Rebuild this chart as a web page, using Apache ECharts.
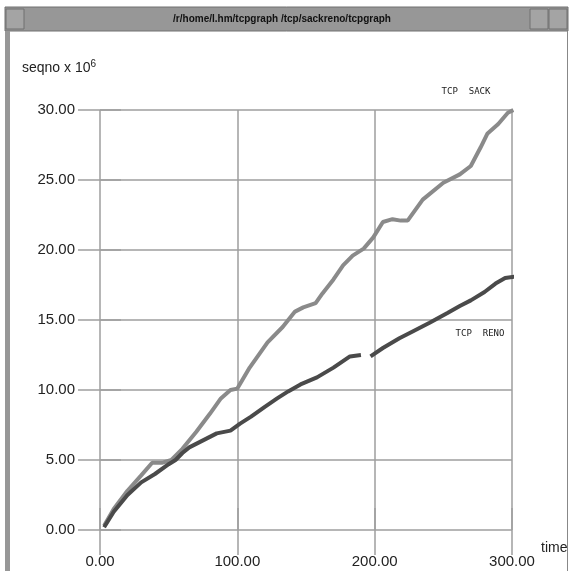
<!DOCTYPE html>
<html>
<head>
<meta charset="utf-8">
<script src="https://cdn.jsdelivr.net/npm/echarts@6/dist/echarts.min.js"></script>
<style>
html,body{margin:0;padding:0;background:#fff;}
#c{width:571px;height:571px;}
</style>
</head>
<body>
<div id="c"></div>
<script>
// Data (time in seconds, seqno x 10^6)
const sackTime = [3,10,20,30,38,45,52,60,70,80,88,95,100,109,122,133,142,148,157,162,170,177,184,192,199,206,213,219,224,235,250,262,270,277,282,290,297,301];
const sackSeq  = [0.3,1.5,2.8,3.9,4.8,4.8,5.0,5.8,7.0,8.3,9.4,10.0,10.1,11.6,13.4,14.5,15.6,15.9,16.2,16.9,17.9,18.9,19.6,20.1,20.9,22.0,22.2,22.1,22.1,23.6,24.8,25.4,26.0,27.3,28.3,29.0,29.8,30.0];
const renoTime = [3,10,20,30,40,50,55,60,65,75,85,95,102,110,120,129,137,146,158,170,182,190,194,197,206,218,228,240,253,262,270,280,288,295,302];
const renoSeq  = [0.2,1.3,2.5,3.4,4.0,4.7,5.0,5.5,5.9,6.4,6.9,7.1,7.6,8.1,8.8,9.4,9.9,10.4,10.9,11.6,12.4,12.5,null,12.4,13.0,13.7,14.2,14.8,15.5,16.0,16.4,17.0,17.6,18.0,18.1];
const xTicks = [0,100,200,300];
const yTicks = [0,5,10,15,20,25,30];
const seriesNames = ['TCP SACK','TCP RENO'];

const sackData = sackTime.map((t,i)=>[t,sackSeq[i]]);
const renoData = renoTime.map((t,i)=>[t,renoSeq[i]]);

const chart = echarts.init(document.getElementById('c'), null, {renderer:'canvas'});
const gridColor = '#9e9e9e';
const labelFont = {color:'#222', fontSize:15, fontFamily:'Liberation Sans, Arial, sans-serif'};
chart.setOption({
  animation:false,
  backgroundColor:'#fff',
  grid:{left:100, top:110, width:412, height:420, containLabel:false},
  xAxis:[{
    type:'value', min:xTicks[0], max:xTicks[xTicks.length-1], interval:100, position:'bottom',
    axisLine:{show:false},
    axisTick:{show:true, length:25, lineStyle:{color:gridColor, width:1.5}},
    axisLabel:Object.assign({margin:24, formatter:v=>v.toFixed(2)}, labelFont),
    splitLine:{show:true, lineStyle:{color:gridColor, width:1.5}}
  },{
    type:'value', min:0, max:300, interval:100, position:'top',
    axisLine:{show:false},
    axisTick:{show:true, length:22, lineStyle:{color:gridColor, width:1.5}},
    axisLabel:{show:false}, splitLine:{show:false}
  }],
  yAxis:[{
    type:'value', min:yTicks[0], max:yTicks[yTicks.length-1], interval:5, position:'left',
    axisLine:{show:false},
    axisTick:{show:true, length:22, lineStyle:{color:gridColor, width:1.5}},
    axisLabel:Object.assign({margin:25, formatter:v=>v.toFixed(2)}, labelFont),
    splitLine:{show:true, lineStyle:{color:gridColor, width:1.5}}
  },{
    type:'value', min:0, max:30, interval:5, position:'right',
    axisLine:{show:false},
    axisTick:{show:true, length:21, lineStyle:{color:gridColor, width:1.5}},
    axisLabel:{show:false}, splitLine:{show:false}
  }],
  series:[{
    name:seriesNames[0], type:'line', data:sackData, showSymbol:false, symbol:'none',
    lineStyle:{color:'#8a8a8a', width:4}, connectNulls:false, z:3
  },{
    name:seriesNames[1], type:'line', data:renoData, showSymbol:false, symbol:'none',
    lineStyle:{color:'#4a4a4a', width:4}, connectNulls:false, z:4
  }],
  graphic:[
    // window frame
    {type:'rect', shape:{x:5,y:7,width:563,height:24}, style:{fill:'#979797', stroke:'#707070', lineWidth:1}, z:10},
    {type:'rect', shape:{x:6,y:9,width:18,height:20}, style:{fill:'#a4a4a4', stroke:'#707070', lineWidth:1}, z:11},
    {type:'rect', shape:{x:530,y:9,width:18,height:20}, style:{fill:'#a4a4a4', stroke:'#707070', lineWidth:1}, z:11},
    {type:'rect', shape:{x:549,y:9,width:18,height:20}, style:{fill:'#a4a4a4', stroke:'#707070', lineWidth:1}, z:11},
    {type:'text', x:282, y:19, style:{text:'/r/home/l.hm/tcpgraph /tcp/sackreno/tcpgraph', fill:'#111', font:'bold 10px Liberation Sans, Arial, sans-serif', textAlign:'center', textVerticalAlign:'middle'}, z:12},
    {type:'rect', shape:{x:5,y:31,width:5,height:540}, style:{fill:'#979797'}, z:10},
    {type:'rect', shape:{x:567,y:31,width:1,height:540}, style:{fill:'#888'}, z:10},
    // axis titles
    {type:'text', x:22, y:68, style:{rich:{a:{fontSize:14, fill:'#222', fontFamily:'Liberation Sans, Arial, sans-serif'}, s:{fontSize:10, fill:'#222', verticalAlign:'top', padding:[0,0,8,0], fontFamily:'Liberation Sans, Arial, sans-serif'}}, text:'{a|seqno x 10}{s|6}', textVerticalAlign:'middle'}, z:12},
    {type:'text', x:541, y:548, style:{text:'time', fill:'#222', font:'14px Liberation Sans, Arial, sans-serif', textVerticalAlign:'middle'}, z:12},
    // series labels
    {type:'text', x:466, y:92, style:{text:'TCP  SACK', fill:'#222', font:'9px DejaVu Sans Mono, monospace', textAlign:'center', textVerticalAlign:'middle'}, z:12},
    {type:'text', x:480, y:334, style:{text:'TCP  RENO', fill:'#222', font:'9px DejaVu Sans Mono, monospace', textAlign:'center', textVerticalAlign:'middle'}, z:12}
  ]
});
</script>
</body>
</html>
